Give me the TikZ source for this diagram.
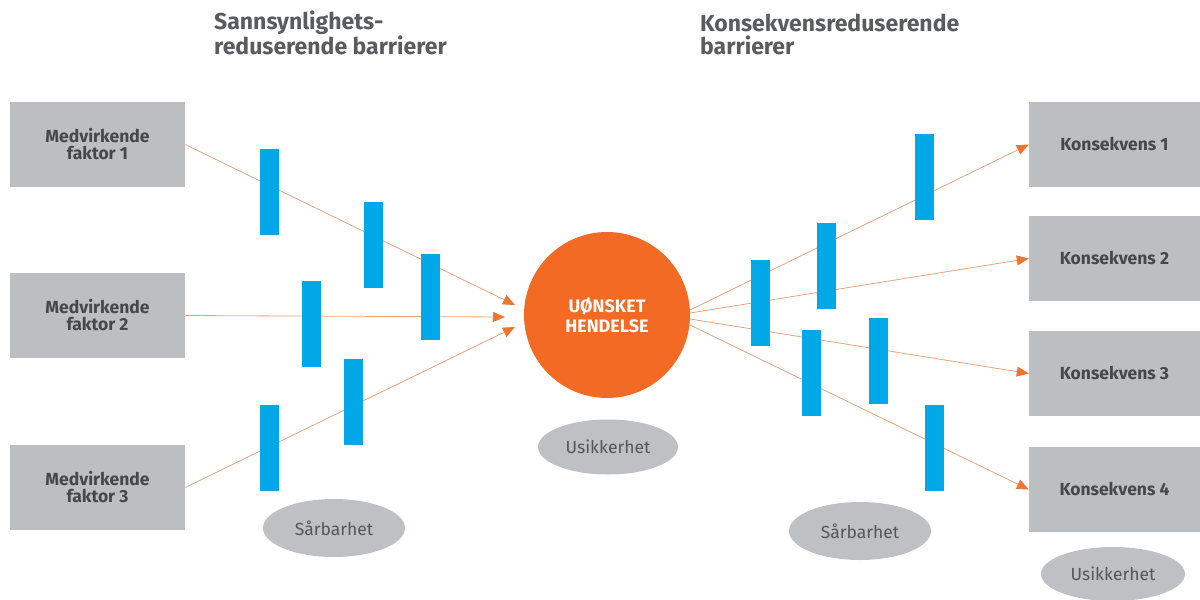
\documentclass[tikz,border=0pt]{standalone}
\usepackage{fontspec}
\setmainfont{Fira Sans}
\usetikzlibrary{arrows.meta,shapes.geometric}
\definecolor{boxgray}{HTML}{BDBEC1}
\definecolor{txtdark}{HTML}{46474B}
\definecolor{headgray}{HTML}{5A5B5E}
\definecolor{barblue}{HTML}{00A8E8}
\definecolor{evorange}{HTML}{F26A24}
\definecolor{linetan}{HTML}{E6A47C}
\definecolor{tiporange}{HTML}{EE7430}
\definecolor{ellgray}{HTML}{BFC0C3}
\definecolor{elltxt}{HTML}{55565A}
\tikzset{
  factorbox/.style={rectangle, fill=boxgray, minimum width=175pt, minimum height=85pt, inner sep=0pt, align=center, text=txtdark, font=\bfseries\fontsize{17.5}{17}\selectfont},
  consbox/.style={rectangle, fill=boxgray, minimum width=171pt, minimum height=85pt, inner sep=0pt, align=center, text=txtdark, font=\bfseries\fontsize{17.5}{17}\selectfont},
  barrier/.style={rectangle, fill=barblue, minimum width=19pt, minimum height=86pt, inner sep=0pt},
  cloud/.style={ellipse, fill=ellgray, inner sep=0pt, text=elltxt, font=\fontsize{17.5}{19}\selectfont},
  heading/.style={anchor=base west, align=left, inner sep=0pt, text=headgray, font=\bfseries\fontsize{23}{22.5}\selectfont},
  flow/.style={draw=linetan, line width=0.8pt},
  flowarrow/.style={flow, -{Triangle[length=12pt,width=10pt,color=tiporange]}}
}
\begin{document}
\begin{tikzpicture}[x=1pt,y=-1pt]
\useasboundingbox (0,0) rectangle (1200,600);
% headings
\node[heading] (h1) at (214,54) {Sannsynlighets-\\reduserende barrierer};
\node[heading] (h2) at (700,54) {Konsekvensreduserende\\barrierer};
% boxes
\node[factorbox] (f1) at (97.5,144.5) {Medvirkende\\faktor 1};
\node[factorbox] (f2) at (97.5,315.5) {Medvirkende\\faktor 2};
\node[factorbox] (f3) at (97.5,487.5) {Medvirkende\\faktor 3};
\node[consbox] (k1) at (1114.5,144.5) {Konsekvens 1};
\node[consbox] (k2) at (1114.5,258.5) {Konsekvens 2};
\node[consbox] (k3) at (1114.5,373.5) {Konsekvens 3};
\node[consbox] (k4) at (1114.5,489.5) {Konsekvens 4};
% central event
\node[circle, fill=evorange, minimum size=166pt, inner sep=0pt, align=center, text=white, font=\bfseries\fontsize{18}{20.5}\selectfont] (ev) at (607,315) {UØNSKET\\HENDELSE};
% arrow tips and starts
\coordinate (t1) at (515,305);
\coordinate (t2) at (505,317);
\coordinate (t3) at (515,327);
\coordinate (s1) at (690,310);
\coordinate (s2) at (690,313);
\coordinate (s3) at (690,319);
\coordinate (s4) at (690,325);
% connectors
\draw[flowarrow] (f1.east) -- (t1);
\draw[flowarrow] (f2.east) -- (t2);
\draw[flowarrow] (f3.east) -- (t3);
\draw[flowarrow] (s1) -- (k1.west);
\draw[flowarrow] (s2) -- (k2.west);
\draw[flowarrow] (s3) -- (k3.west);
\draw[flowarrow] (s4) -- (k4.west);
% barriers left
\node[barrier] (bA) at (269,191.5) {};
\node[barrier] (bB) at (373.5,244.5) {};
\node[barrier] (bC) at (430,297) {};
\node[barrier] (bD) at (311.5,324) {};
\node[barrier] (bE) at (353.5,402) {};
\node[barrier] (bF) at (269,448) {};
% barriers right
\node[barrier] (bG) at (924.5,176.5) {};
\node[barrier] (bH) at (826.5,265.5) {};
\node[barrier] (bI) at (760.5,303) {};
\node[barrier] (bJ) at (811.5,373) {};
\node[barrier] (bK) at (878.5,361) {};
\node[barrier] (bL) at (934,448) {};
% ellipses
\node[cloud, minimum width=140pt, minimum height=55pt] (u1) at (608,447) {Usikkerhet};
\node[cloud, minimum width=142pt, minimum height=58pt] (v1) at (334,528) {Sårbarhet};
\node[cloud, minimum width=142pt, minimum height=58pt] (v2) at (860,531) {Sårbarhet};
\node[cloud, minimum width=144pt, minimum height=54pt] (u2) at (1113,574) {Usikkerhet};
\end{tikzpicture}
\end{document}
